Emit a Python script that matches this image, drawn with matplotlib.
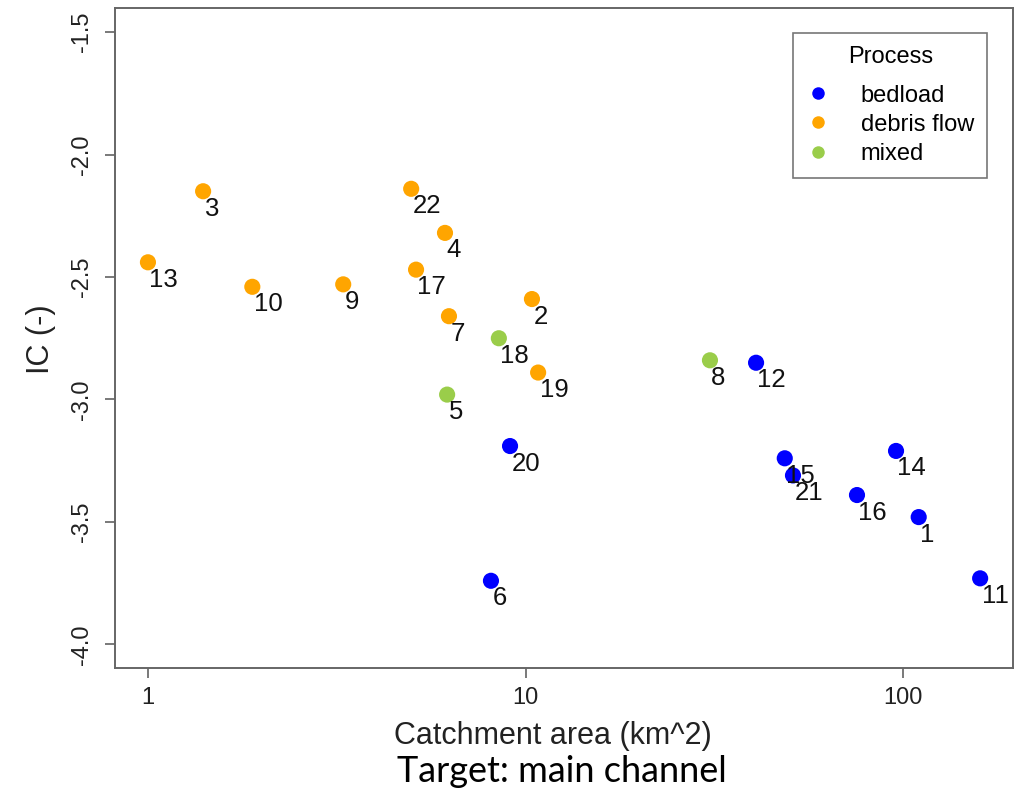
import numpy as np
import matplotlib
matplotlib.use("Agg")
from matplotlib import pyplot as plt
from matplotlib.lines import Line2D

plt.rcParams['font.family'] = ['Liberation Sans', 'DejaVu Sans']

# catchment id, area (km^2), IC (-), process
ids = [13, 3, 10, 9, 22, 4, 17, 7, 2, 19,
       18, 5, 8,
       20, 6, 12, 15, 21, 16, 14, 1, 11]
area = [1.0, 1.40, 1.89, 3.29, 4.98, 6.12, 5.13, 6.27, 10.4, 10.8,
        8.5, 6.2, 30.8,
        9.1, 8.1, 40.8, 48.6, 51.1, 75.5, 95.8, 110, 160]
ic = [-2.44, -2.15, -2.54, -2.53, -2.14, -2.32, -2.47, -2.66, -2.59, -2.89,
      -2.75, -2.98, -2.84,
      -3.19, -3.74, -2.85, -3.24, -3.31, -3.39, -3.21, -3.48, -3.73]
process = ['debris flow'] * 10 + ['mixed'] * 3 + ['bedload'] * 9

proc_names = ['bedload', 'debris flow', 'mixed']
proc_colors = {'bedload': '#0000FF', 'debris flow': '#FFA500', 'mixed': '#9ACD4A'}

fig = plt.figure(figsize=(10.22, 7.97), dpi=100)
ax = fig.add_axes([115/1022, 1-668/797, (1013-115)/1022, (668-8)/797])

cols = [proc_colors[p] for p in process]
ax.scatter(area, ic, s=135, c=cols, edgecolors='none', zorder=3)
for i in range(len(ids)):
    ax.annotate(str(ids[i]), (area[i], ic[i]), xytext=(1, -4),
                textcoords='offset points', ha='left', va='top',
                fontsize=18.5, color='#111111', zorder=4)

ax.set_xscale('log')
ax.set_xlim(0.818, 195.5)
ax.set_ylim(-4.096, -1.402)
ax.set_xticks([1, 10, 100])
ax.set_xticklabels(['1', '10', '100'])
ax.minorticks_off()
ax.set_yticks([-4.0, -3.5, -3.0, -2.5, -2.0, -1.5])
ax.set_yticklabels(['-4.0', '-3.5', '-3.0', '-2.5', '-2.0', '-1.5'],
                   rotation=90, va='center')
ax.tick_params(axis='both', direction='out', length=7, width=1.1,
               color='#555555', labelsize=17, labelcolor='#222222')
ax.tick_params(axis='x', pad=7)
ax.tick_params(axis='y', pad=9)
for s in ax.spines.values():
    s.set_color('#666666')
    s.set_linewidth(1.4)

handles = [Line2D([], [], marker='o', linestyle='none', markersize=9,
                  markerfacecolor=proc_colors[p], markeredgecolor='none')
           for p in proc_names]
leg = ax.legend(handles, proc_names, title='Process', loc='upper right',
                bbox_to_anchor=(987/1022, 1-33/797), bbox_transform=fig.transFigure,
                fontsize=17, title_fontsize=17, frameon=True, fancybox=False,
                edgecolor='#555555', handletextpad=1.3, borderpad=0.55,
                labelspacing=0.3, handlelength=1.0, borderaxespad=0)
leg.get_frame().set_linewidth(1.2)
leg._legend_box.sep = 12

fig.text(41/1022, 1-339/797, 'IC (-)', rotation=90, ha='center', va='center',
         fontsize=22, color='#222222')
fig.text(553/1022, 1-736/797, 'Catchment area (km^2)', ha='center', va='center',
         fontsize=22, color='#222222')
fig.text(562/1022, 1-771/797, 'Target: main channel', ha='center', va='center',
         fontsize=26, color='black', family=['Lato', 'DejaVu Sans'])

fig.savefig('out.png', dpi=100)
